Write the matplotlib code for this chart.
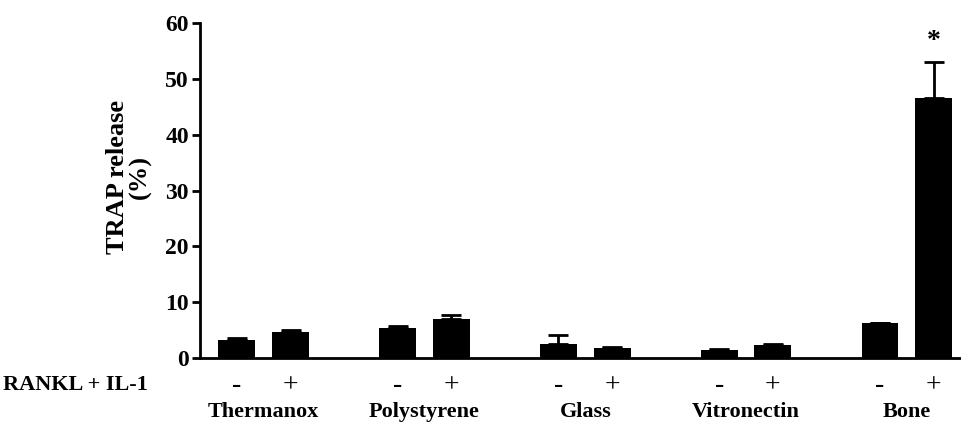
import matplotlib
matplotlib.use('Agg')
import matplotlib.pyplot as plt
import matplotlib.transforms as mtransforms
import numpy as np

plt.rcParams['font.family'] = 'Liberation Serif'

# TRAP release per substrate, without (-) and with (+) RANKL + IL-1
groups = ['Thermanox', 'Polystyrene', 'Glass', 'Vitronectin', 'Bone']
minus_vals = [3.2, 5.3, 2.5, 1.5, 6.2]
minus_err = [0.4, 0.5, 1.6, 0.15, 0.0]
plus_vals = [4.7, 6.9, 1.8, 2.3, 46.6]
plus_err = [0.3, 0.8, 0.2, 0.25, 6.4]
signs = ['-', '+']

fig = plt.figure(figsize=(9.62, 4.26), dpi=100)
ax = fig.add_axes([0.2079, 0.1596, 0.7921, 0.7864])

centers = np.arange(len(groups)) * 3.0
xm = centers
xp = centers + 1
width = 0.69

err_kw = dict(ecolor='black', elinewidth=2, capsize=7, capthick=2)
ax.bar(xm, minus_vals, width, color='black',
       yerr=[np.zeros(len(groups)), minus_err], error_kw=err_kw)
ax.bar(xp, plus_vals, width, color='black',
       yerr=[np.zeros(len(groups)), plus_err], error_kw=err_kw)

# significance mark on the last bar
ax.text(xp[-1], plus_vals[-1] + plus_err[-1] + 3.6, '*', ha='center', va='center',
        fontsize=20, fontweight='bold')

ax.set_ylim(0, 60)
ax.set_xlim(-0.69, xp[-1] + 0.53)
ax.set_yticks(np.arange(0, 61, 10))
ax.tick_params(axis='y', direction='out', length=6, width=2, labelsize=17, pad=2)
for lab in ax.get_yticklabels():
    lab.set_fontweight('bold')

ticks = np.sort(np.concatenate([xm, xp]))
ax.set_xticks(ticks)
ax.set_xticklabels(signs * len(groups), fontsize=20)
ax.tick_params(axis='x', length=0, pad=11)

for s in ['top', 'right']:
    ax.spines[s].set_visible(False)
ax.spines['left'].set_linewidth(2)
ax.spines['bottom'].set_linewidth(2)

ax.set_ylabel('TRAP release\n(%)', fontsize=19, fontweight='bold',
              linespacing=1.0)
ax.yaxis.set_label_coords(-0.063, 0.54)

trans = mtransforms.blended_transform_factory(ax.transData, ax.transAxes)
for c, g in zip(centers, groups):
    ax.text(c + 0.5, -0.16, g, transform=trans, ha='center', va='center',
            fontsize=16, fontweight='bold')

fig.text(3 / 962, 1 - 385 / 426, 'RANKL + IL-1', ha='left', va='center',
         fontsize=16, fontweight='bold')

fig.savefig('out.png', dpi=100)
